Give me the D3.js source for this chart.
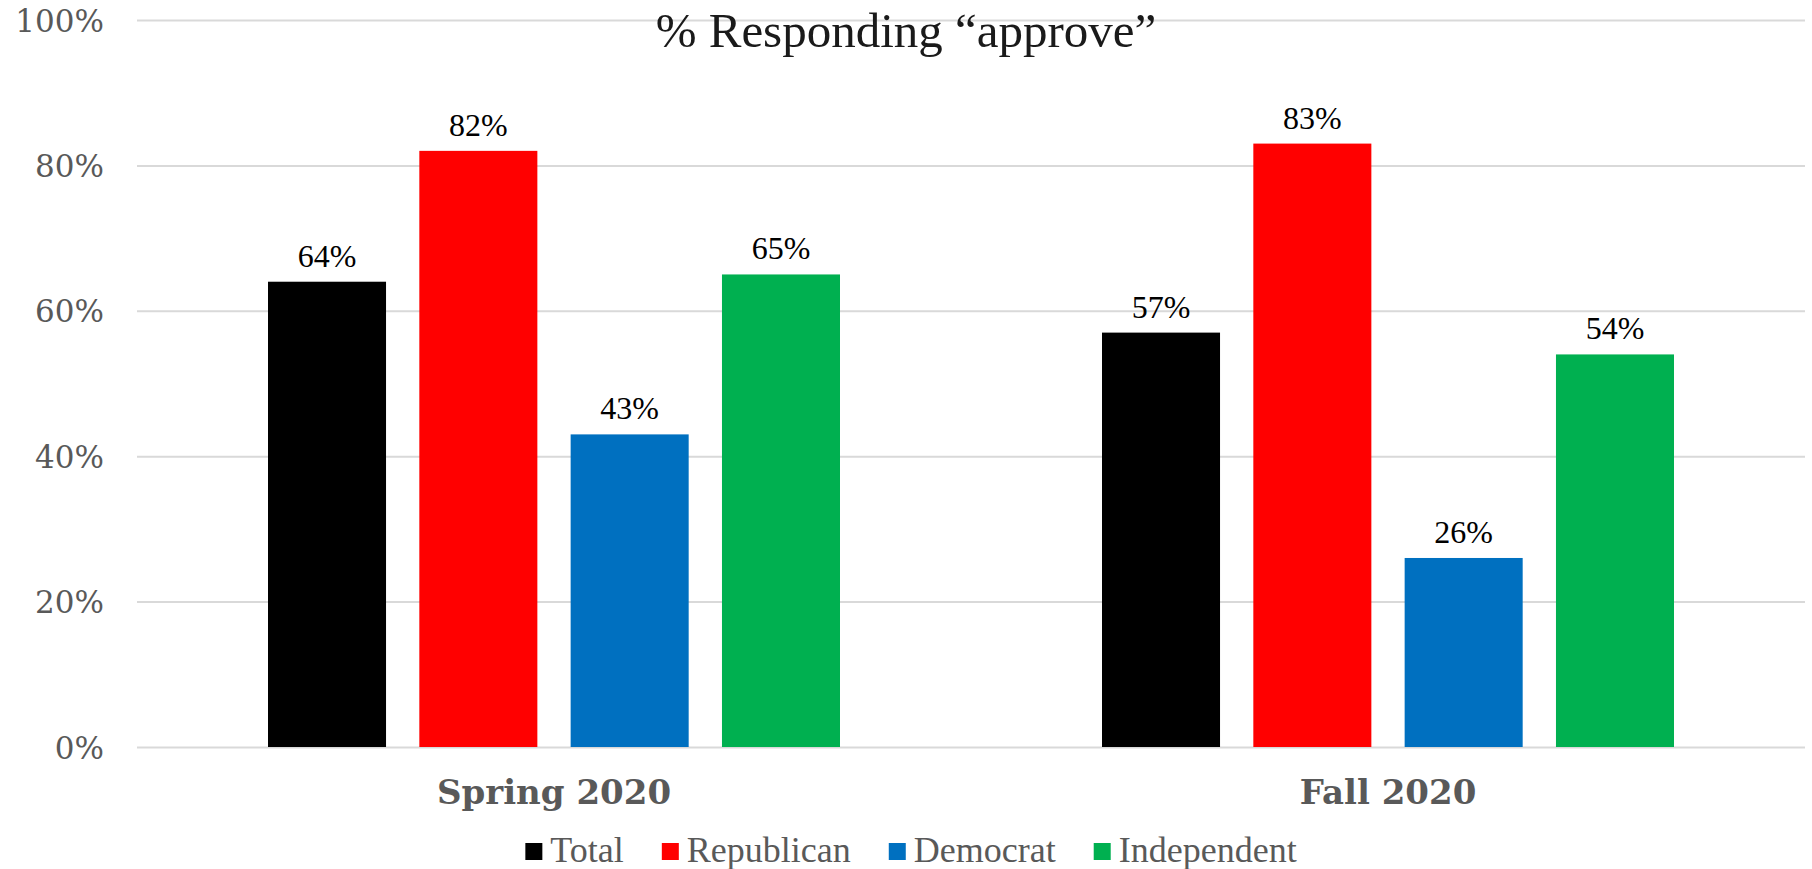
<!DOCTYPE html>
<html>
<head>
<meta charset="utf-8">
<script src="https://cdn.jsdelivr.net/npm/d3@7"></script>
<style>
  html, body { margin: 0; padding: 0; background: #fff; }
  svg { display: block; }
</style>
</head>
<body>
<svg id="chart" width="1812" height="869"></svg>
<script>
// ---- data ----
const categories = ["Spring 2020", "Fall 2020"];
const seriesNames = ["Total", "Republican", "Democrat", "Independent"];
const seriesColors = ["#000000", "#FF0000", "#0070C0", "#00B050"];
const totalValues = [64, 57];
const republicanValues = [82, 83];
const democratValues = [43, 26];
const independentValues = [65, 54];
const yTicks = [0, 20, 40, 60, 80, 100];
const titleText = "% Responding \u201Capprove\u201D";

const seriesValues = [totalValues, republicanValues, democratValues, independentValues];

const svg = d3.select("#chart");
const plot = { left: 137, right: 1805, top: 20, bottom: 747 };

const x0 = d3.scaleBand().domain(categories).range([plot.left, plot.right]).paddingInner(0).paddingOuter(0);
const groupW = 572;
const x1 = d3.scaleBand().domain(seriesNames)
  .range([(x0.bandwidth() - groupW) / 2, (x0.bandwidth() + groupW) / 2])
  .paddingInner(0.22).paddingOuter(0);
const y = d3.scaleLinear().domain([0, 100]).range([plot.bottom, plot.top]);
const color = d3.scaleOrdinal().domain(seriesNames).range(seriesColors);

// gridlines + y labels
const yAxis = d3.axisLeft(y).tickValues(yTicks).tickSize(-(plot.right - plot.left)).tickFormat(d => d + "%").tickPadding(33);
const gAxis = svg.append("g").attr("transform", `translate(${plot.left},0)`).call(yAxis);
gAxis.select(".domain").remove();
gAxis.selectAll(".tick line").attr("stroke", "#d9d9d9").attr("stroke-width", 2);
gAxis.selectAll(".tick text")
  .attr("fill", "#595959")
  .style("font-family", "'DejaVu Serif', serif")
  .style("font-size", "31px")
  .attr("dy", "0.36em");

// title
svg.append("text")
  .attr("x", 906).attr("y", 47)
  .attr("text-anchor", "middle")
  .attr("fill", "#1a1a1a")
  .style("font-family", "'Liberation Serif', serif")
  .style("font-size", "49px")
  .text(titleText);

// bars
const rows = [];
categories.forEach((c, ci) => {
  seriesNames.forEach((s, si) => rows.push({ cat: c, series: s, value: seriesValues[si][ci] }));
});

const bars = svg.append("g");
bars.selectAll("rect").data(rows).join("rect")
  .attr("x", d => x0(d.cat) + x1(d.series))
  .attr("y", d => y(d.value))
  .attr("width", x1.bandwidth())
  .attr("height", d => y(0) - y(d.value))
  .attr("fill", d => color(d.series));

bars.selectAll("text").data(rows).join("text")
  .attr("x", d => x0(d.cat) + x1(d.series) + x1.bandwidth() / 2)
  .attr("y", d => y(d.value) - 15)
  .attr("text-anchor", "middle")
  .attr("fill", "#000")
  .style("font-family", "'Liberation Serif', serif")
  .style("font-size", "32px")
  .text(d => d.value + "%");

// x axis labels
const xAxis = d3.axisBottom(x0).tickSize(0).tickPadding(0);
const gx = svg.append("g").attr("transform", `translate(0,${plot.bottom})`).call(xAxis);
gx.select(".domain").remove();
gx.selectAll(".tick text")
  .attr("y", 57).attr("dy", 0)
  .attr("fill", "#595959")
  .style("font-family", "'DejaVu Serif', serif")
  .style("font-weight", "bold")
  .style("font-size", "34px");

// legend
const legend = svg.append("g");
const items = legend.selectAll("g").data(seriesNames).join("g");
items.append("rect").attr("width", 17).attr("height", 17).attr("y", 843).attr("fill", d => color(d));
items.append("text")
  .attr("y", 862)
  .attr("fill", "#595959")
  .style("font-family", "'Liberation Serif', serif")
  .style("font-size", "36px")
  .text(d => d);
const widths = [];
items.each(function () {
  widths.push(d3.select(this).select("text").node().getComputedTextLength());
});
const swatch = 17, gap1 = 8, gap2 = 38;
const totalW = widths.reduce((a, w) => a + swatch + gap1 + w, 0) + gap2 * (widths.length - 1);
let cx = 911 - totalW / 2;
items.each(function (d, i) {
  const g = d3.select(this);
  g.select("rect").attr("x", cx);
  g.select("text").attr("x", cx + swatch + gap1);
  cx += swatch + gap1 + widths[i] + gap2;
});
</script>
</body>
</html>
